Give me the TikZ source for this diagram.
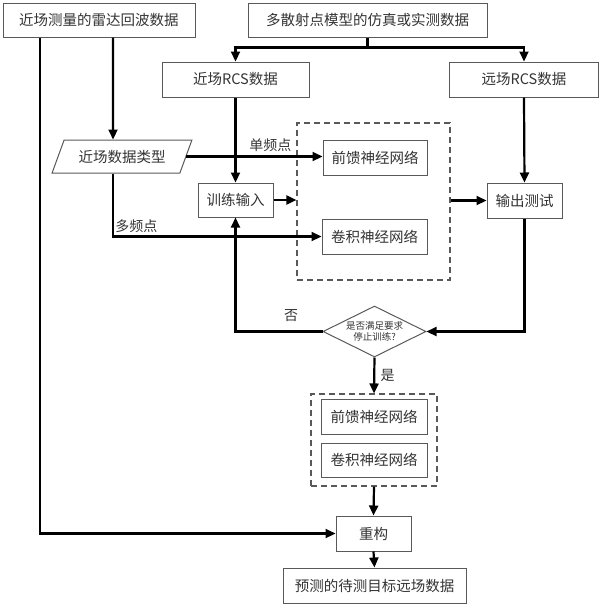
\documentclass[tikz,border=0pt]{standalone}
\usepackage{fontspec}
\newfontfamily\cjk{Noto Sans CJK SC}
\usetikzlibrary{arrows.meta,shapes.geometric}
\tikzset {>={Triangle[length=10pt,width=9pt]}}
\tikzset{
  box/.style={draw=black!65,line width=1pt,inner sep=0pt,text=black!80,
    font=\cjk\fontsize{14.5}{17}\selectfont},
  netbox/.style={draw=black!65,line width=1.1pt,dashed,dash pattern=on 6pt off 4pt},
  conn/.style={line width=2.2pt,->},
  lbl/.style={text=black!80,font=\cjk\fontsize{14}{16}\selectfont}
}

\begin{document}
\begin{tikzpicture}[x=1pt,y=-1pt]
\useasboundingbox (0,0) rectangle (600,606);
\node[box,minimum width=192,minimum height=34] (Echo) at (99,20) {近场测量的雷达回波数据};
\node[box,minimum width=239,minimum height=34] (Model) at (367.5,20) {多散射点模型的仿真或实测数据};
\node[box,minimum width=147,minimum height=35] (NearRCS) at (235.5,79.5) {近场RCS数据};
\node[box,minimum width=149,minimum height=35] (FarRCS) at (524,79.5) {远场RCS数据};
\node[box,trapezium,trapezium left angle=56,trapezium right angle=124,
  trapezium stretches=true,minimum width=140,minimum height=33] (Type) at (122,156.5) {近场数据类型};
\node[box,minimum width=75,minimum height=34] (Train) at (235.5,200) {训练输入};
\node[netbox,minimum width=153,minimum height=157] (Net) at (373.5,201.5) {};
\node[box,minimum width=104,minimum height=35] (FF) at (375,157.5) {前馈神经网络};
\node[box,minimum width=105,minimum height=35] (CNN) at (374.5,236.5) {卷积神经网络};
\node[box,minimum width=75,minimum height=35] (Test) at (524.5,200.5) {输出测试};
\node[box,diamond,aspect=2,minimum width=103,minimum height=51,align=center,
  font=\cjk\fontsize{9.5}{11}\selectfont] (Dec) at (374.5,331.5) {是否满足要求\\停止训练?};
\node[netbox,minimum width=126,minimum height=92] (Net2) at (374,440) {};
\node[box,minimum width=106,minimum height=35] (FF2) at (374,416.5) {前馈神经网络};
\node[box,minimum width=106,minimum height=34] (CNN2) at (374,460) {卷积神经网络};
\node[box,minimum width=75,minimum height=35] (Rec) at (373.5,533.5) {重构};
\node[box,minimum width=183,minimum height=35] (Pred) at (374.5,585.5) {预测的待测目标远场数据};

\draw[conn] (Model.south) -- ++(0,10) -| (NearRCS.north);
\draw[conn] (Model.south) -- ++(0,10) -| (FarRCS.north);
\draw[conn] ([xshift=14]Echo.south) -- ([xshift=-9]Type.north);
\draw[conn] ([xshift=-59]Echo.south) |- (Rec.west);
\draw[conn] (Type.east) -- node[lbl,above,near end,xshift=-18] {单频点} (Type.east -| FF.west);
\draw[conn] ([xshift=-9]Type.south) |- node[lbl,above right,pos=.5,xshift=-2,yshift=-1] {多频点} (CNN.west);
\draw[conn] (NearRCS.south) -- (Train.north);
\draw[conn] (Train.east) -- (Train.east -| Net.west);
\draw[conn] (Net.east |- Test.west) -- (Test.west);
\draw[conn] (FarRCS.south) -- (Test.north);
\draw[conn] (Test.south) |- (Dec.east);
\draw[conn] (Dec.west) -| node[lbl,above,pos=.18,yshift=5] {否} (Train.south);
\draw[conn] (Dec.south) -- node[lbl,right,xshift=2] {是} (Net2.north);
\draw[conn] (Net2.south) -- (Rec.north);
\draw[conn] (Rec.south) -- (Pred.north);
\end{tikzpicture}
\end{document}
